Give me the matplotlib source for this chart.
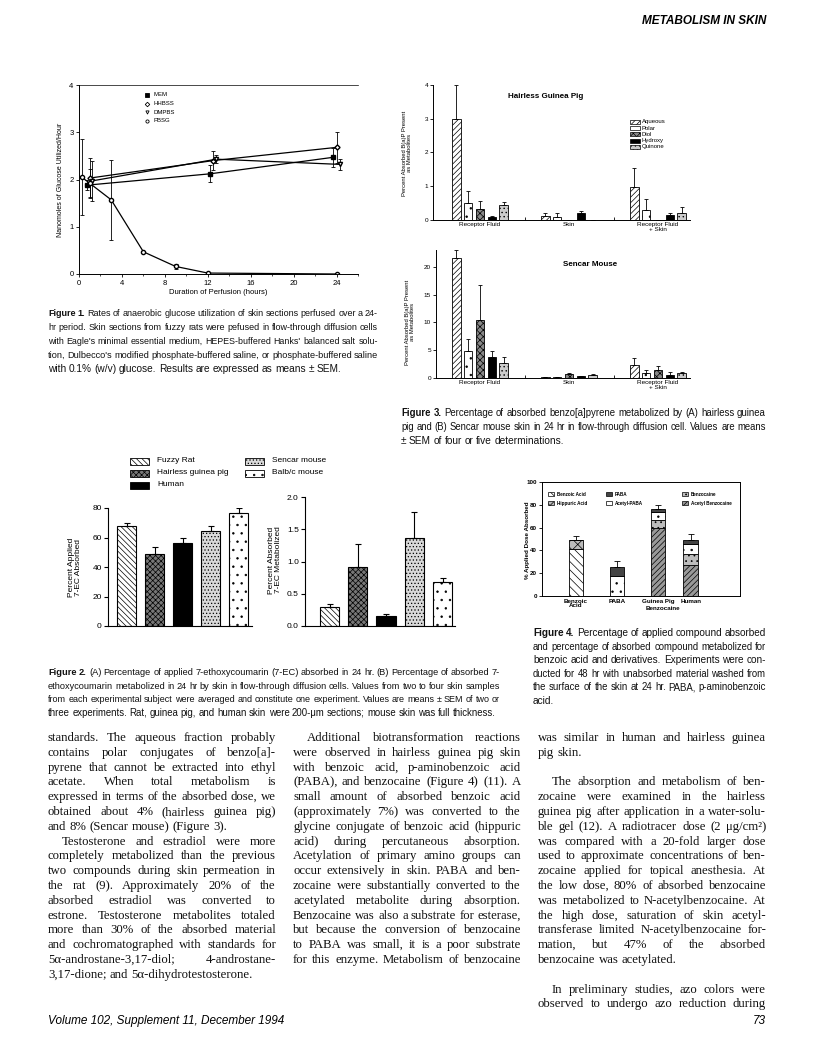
import matplotlib
matplotlib.use('Agg')
import matplotlib.pyplot as plt
from matplotlib.patches import Rectangle
from matplotlib.ticker import MultipleLocator
import numpy as np

# ---------------- data ----------------
# Figure 1
f1_mem_x = [0.75, 12.2, 23.7]
f1_mem_y = [1.88, 2.12, 2.47]
f1_mem_e = [0.10, 0.18, 0.20]
f1_hhbss_x = [1.0, 12.5, 24.0]
f1_hhbss_y = [2.03, 2.40, 2.68]
f1_hhbss_e = [0.42, 0.20, 0.33]
f1_dmpbs_x = [1.2, 12.8, 24.3]
f1_dmpbs_y = [1.97, 2.43, 2.32]
f1_dmpbs_e = [0.42, 0.08, 0.12]
f1_pbsg_x = [0.25, 1.0, 3.0, 6.0, 9.0, 12.0, 24.0]
f1_pbsg_y = [2.05, 1.92, 1.57, 0.47, 0.16, 0.02, 0.0]
f1_pbsg_e = [0.80, 0.30, 0.85, 0.0, 0.05, 0.0, 0.0]

# Figure 3
f3_groups = ["Receptor Fluid", "Skin", "Receptor Fluid\n+ Skin"]
f3_metabolites = ["Aqueous", "Polar", "Diol", "Hydroxy", "Quinone"]
gp_aqueous = [3.0, 0.13, 0.98]
gp_aqueous_err = [1.0, 0.07, 0.55]
gp_polar = [0.5, 0.10, 0.30]
gp_polar_err = [0.35, 0.10, 0.33]
gp_diol = [0.32, 0.0, 0.0]
gp_diol_err = [0.25, 0.0, 0.0]
gp_hydroxy = [0.08, 0.20, 0.15]
gp_hydroxy_err = [0.04, 0.07, 0.07]
gp_quinone = [0.43, 0.0, 0.20]
gp_quinone_err = [0.10, 0.0, 0.20]
sm_aqueous = [21.5, 0.1, 2.3]
sm_aqueous_err = [1.5, 0.0, 1.3]
sm_polar = [4.8, 0.1, 0.9]
sm_polar_err = [2.2, 0.0, 0.5]
sm_diol = [10.5, 0.7, 1.5]
sm_diol_err = [6.2, 0.15, 0.6]
sm_hydroxy = [3.8, 0.3, 0.6]
sm_hydroxy_err = [1.1, 0.05, 0.4]
sm_quinone = [2.7, 0.6, 0.85]
sm_quinone_err = [1.1, 0.1, 0.2]

# Figure 2
f2_species = ["Fuzzy Rat", "Hairless guinea pig", "Human", "Sencar mouse", "Balb/c mouse"]
f2_absorbed = [68.0, 48.8, 56.5, 64.4, 76.5]
f2_absorbed_err = [2.0, 5.0, 3.5, 3.6, 3.5]
f2_metabolized = [0.29, 0.91, 0.155, 1.37, 0.68]
f2_metabolized_err = [0.05, 0.36, 0.035, 0.39, 0.06]

# Figure 4
f4_compounds = ["Benzoic\nAcid", "PABA", "Guinea Pig", "Human"]
f4_benzoic_acid = [41.5, 0, 0, 0]
f4_hippuric_acid = [8.0, 0, 0, 0]
f4_paba = [0, 8.0, 2.3, 3.0]
f4_acetyl_paba = [0, 17.5, 7.3, 9.5]
f4_benzocaine = [0, 0, 6.4, 9.5]
f4_acetyl_benzocaine = [0, 0, 60.0, 27.0]
f4_err = [3.3, 5.6, 3.5, 5.0]

# ---------------- setup ----------------
W, H = 816, 1060
fig = plt.figure(figsize=(W / 100, H / 100), dpi=100)
plt.rcParams['hatch.linewidth'] = 0.5
SANS = ['Liberation Sans', 'DejaVu Sans']
NARROW = ['Liberation Sans Narrow', 'Liberation Sans', 'DejaVu Sans']
SERIF = ['Liberation Serif', 'DejaVu Serif']
plt.rcParams['font.family'] = SANS
plt.rcParams['axes.linewidth'] = 0.7


def add_ax(l, t, r, b):
    return fig.add_axes([l / W, 1 - b / H, (r - l) / W, (b - t) / H])


ov = fig.add_axes([0, 0, 1, 1])
ov.set_xlim(0, W)
ov.set_ylim(H, 0)
ov.axis('off')
ov.set_zorder(10)
renderer = fig.canvas.get_renderer()


def draw_line(text, x0, x1, y, size, family, justify=True, nbold=0, style='normal'):
    words = text.split()
    for attempt in range(2):
        objs, ws = [], []
        for j, w in enumerate(words):
            t = ov.text(0, y, w, fontsize=size, family=family,
                        weight='bold' if j < nbold else 'normal', style=style,
                        va='baseline', ha='left', color='#111111')
            objs.append(t)
            ws.append(t.get_window_extent(renderer).width)
        sp = 0.25 * size * 100 / 72
        nat = sum(ws) + sp * (len(ws) - 1)
        if nat > (x1 - x0) and attempt == 0:
            for t in objs:
                t.remove()
            size = size * (x1 - x0) / nat * 0.995
            continue
        break
    if justify and len(ws) > 1:
        gap = (x1 - x0 - sum(ws)) / (len(ws) - 1)
    else:
        gap = sp
    x = x0
    for t, w in zip(objs, ws):
        t.set_x(x)
        x += w + gap


def draw_block(lines, x0, x1, y0, dy, size, family, nbold=0, indent=14):
    y = y0
    for i, item in enumerate(lines):
        if item is None:
            y += dy
            continue
        txt, mode = item
        xs = x0 + (indent if 'i' in mode else 0)
        draw_line(txt, xs, x1, y, size, family, justify=('j' in mode),
                  nbold=nbold if i == 0 else 0)
        y += dy


# ---------------- header / footer ----------------
ov.text(766, 24, "METABOLISM IN SKIN", fontsize=8.5, weight='bold', style='italic',
        ha='right', va='baseline', family=SANS)
ov.text(48, 1024, "Volume 102, Supplement 11, December 1994", fontsize=8.5, style='italic',
        ha='left', va='baseline', family=SANS)
ov.text(766, 1024, "73", fontsize=8.5, style='italic', ha='right', va='baseline', family=SANS)

# ---------------- Figure 1 ----------------
ax1 = add_ax(79, 85, 358, 274)
ax1.set_xlim(0, 26)
ax1.set_ylim(0, 4)
ekw = dict(elinewidth=0.6, capsize=1.5, capthick=0.6, color='black', lw=0.9, ms=3)
ax1.errorbar(f1_mem_x, f1_mem_y, yerr=f1_mem_e, marker='s', mfc='black', mec='black', **ekw)
ax1.errorbar(f1_hhbss_x, f1_hhbss_y, yerr=f1_hhbss_e, marker='D', mfc='white', mec='black', **dict(ekw, ms=2.6))
ax1.errorbar(f1_dmpbs_x, f1_dmpbs_y, yerr=f1_dmpbs_e, marker='v', mfc='white', mec='black', **ekw)
ax1.errorbar(f1_pbsg_x, f1_pbsg_y, yerr=f1_pbsg_e, marker='o', mfc='white', mec='black', **ekw)
ax1.xaxis.set_major_locator(MultipleLocator(4))
ax1.xaxis.set_minor_locator(MultipleLocator(2))
ax1.yaxis.set_major_locator(MultipleLocator(1))
ax1.tick_params(labelsize=5.5, length=2.5, width=0.6, pad=1.5)
ax1.tick_params(which='minor', length=1.5, width=0.5)
ax1.spines['right'].set_visible(False)
ax1.spines['top'].set_linewidth(0.5)
ov.text(218, 293, "Duration of Perfusion (hours)", fontsize=5.5, ha='center', va='center')
ov.text(61, 180, "Nanomoles of Glucose Utilized/Hour", fontsize=5, ha='center', va='center', rotation=90)
leg1 = [("MEM", 's', 'black'), ("HHBSS", 'D', 'white'), ("DMPBS", 'v', 'white'), ("PBSG", 'o', 'white')]
for k, (lab, mk, fc) in enumerate(leg1):
    yy = 95 + 8.6 * k
    ov.plot([147], [yy], marker=mk, mfc=fc, mec='black', ms=2.3, mew=0.6, ls='none')
    ov.text(153, yy, lab, fontsize=4.3, va='center', ha='left')

draw_block([
    ("Figure 1. Rates of anaerobic glucose utilization of skin sections perfused over a 24-", 'j'),
    ("hr period. Skin sections from fuzzy rats were pefused in flow-through diffusion cells", 'j'),
    ("with Eagle's minimal essential medium, HEPES-buffered Hanks' balanced salt solu-", 'j'),
    ("tion, Dulbecco's modified phosphate-buffered saline, or phosphate-buffered saline", 'j'),
    ("with 0.1% (w/v) glucose. Results are expressed as means ± SEM.", 'l'),
], 48, 378, 316, 14, 7.3, NARROW, nbold=2)

# ---------------- Figure 3 ----------------
GX0, GDX = 480.0, 89.0
offs = [-2, -1, 0, 1, 2]
bstep = 11.8 / GDX
bw = 8.5 / GDX
styles3 = [dict(color='white', hatch='//////'),
           dict(color='white', hatch='..'),
           dict(color='#888888', hatch='xxxxx'),
           dict(color='black', hatch=None),
           dict(color='#cccccc', hatch='....')]


def fig3_panel(ax, series, errs, ymax, yticks):
    xg = np.arange(len(f3_groups))
    for k, (vals, er) in enumerate(zip(series, errs)):
        st = styles3[k]
        ax.bar(xg + offs[k] * bstep, vals, bw, color=st['color'], hatch=st['hatch'],
               edgecolor='black', linewidth=0.6,
               yerr=[np.zeros(len(er)), er],
               error_kw=dict(elinewidth=0.6, capsize=1.5, capthick=0.6, ecolor='black'))
    ax.set_ylim(0, ymax)
    ax.set_yticks(yticks)
    ax.set_xticks(xg)
    ax.set_xticklabels(f3_groups, fontsize=4.6, linespacing=0.9)
    ax.set_xticks([0.5, 1.5], minor=True)
    ax.tick_params(axis='x', which='major', length=0, pad=1.5)
    ax.tick_params(axis='x', which='minor', length=2, direction='in', width=0.6)
    ax.tick_params(axis='y', labelsize=4.6, length=2, width=0.6, pad=1.5)
    for s in ['top', 'right']:
        ax.spines[s].set_visible(False)


axA = add_ax(433, 85, 690, 220)
axA.set_xlim((433 - GX0) / GDX, (690 - GX0) / GDX)
fig3_panel(axA, [gp_aqueous, gp_polar, gp_diol, gp_hydroxy, gp_quinone],
           [gp_aqueous_err, gp_polar_err, gp_diol_err, gp_hydroxy_err, gp_quinone_err],
           4, [0, 1, 2, 3, 4])
axB = add_ax(436, 250, 690, 378)
axB.set_xlim((436 - GX0) / GDX, (690 - GX0) / GDX)
fig3_panel(axB, [sm_aqueous, sm_polar, sm_diol, sm_hydroxy, sm_quinone],
           [sm_aqueous_err, sm_polar_err, sm_diol_err, sm_hydroxy_err, sm_quinone_err],
           23, [0, 5, 10, 15, 20])
ov.text(546, 97, "Hairless Guinea Pig", fontsize=5.8, weight='bold', ha='center', va='center')
ov.text(590, 265, "Sencar Mouse", fontsize=5.8, weight='bold', ha='center', va='center')
ov.text(407, 153, "Percent Absorbed B(a)P Present\nas Metabolites", fontsize=4.2,
        ha='center', va='center', rotation=90, linespacing=1.1)
ov.text(410, 322, "Percent Absorbed B(a)P Present\nas Metabolites", fontsize=4.2,
        ha='center', va='center', rotation=90, linespacing=1.1)
for k, lab in enumerate(f3_metabolites):
    yy = 122 + 6.2 * k
    st = styles3[k]
    ov.add_patch(Rectangle((630, yy - 2), 10, 4, facecolor=st['color'], hatch=st['hatch'],
                           edgecolor='black', linewidth=0.5))
    ov.text(642, yy, lab, fontsize=4.3, va='center', ha='left')

draw_block([
    ("Figure 3. Percentage of absorbed benzo[a]pyrene metabolized by (A) hairless guinea", 'j'),
    ("pig and (B) Sencar mouse skin in 24 hr in flow-through diffusion cell. Values are means", 'j'),
    ("± SEM of four or five determinations.", 'l'),
], 401, 766, 416, 14, 7.3, NARROW, nbold=2)

# ---------------- Figure 2 ----------------
styles2 = [dict(color='white', hatch='\\\\\\\\\\\\'),
           dict(color='#777777', hatch='xxxxxx'),
           dict(color='black', hatch=None),
           dict(color='#d9d9d9', hatch='.....'),
           dict(color='white', hatch='..')]
axA2 = add_ax(108, 508, 252, 626)
x2 = np.arange(len(f2_species))
axA2.set_xlim((108 - 126.5) / 28.0, (252 - 126.5) / 28.0)
for k in range(len(f2_species)):
    st = styles2[k]
    axA2.bar(x2[k], f2_absorbed[k], 0.68, color=st['color'], hatch=st['hatch'],
             edgecolor='black', linewidth=0.8,
             yerr=[[0], [f2_absorbed_err[k]]],
             error_kw=dict(elinewidth=0.8, capsize=2, capthick=0.8, ecolor='black'))
axA2.set_ylim(0, 80)
axA2.set_yticks([0, 20, 40, 60, 80])
axB2 = add_ax(305, 497, 455, 626)
axB2.set_xlim((305 - 329.5) / 28.3, (455 - 329.5) / 28.3)
for k in range(len(f2_species)):
    st = styles2[k]
    axB2.bar(x2[k], f2_metabolized[k], 0.68, color=st['color'], hatch=st['hatch'],
             edgecolor='black', linewidth=0.8,
             yerr=[[0], [f2_metabolized_err[k]]],
             error_kw=dict(elinewidth=0.8, capsize=2, capthick=0.8, ecolor='black'))
axB2.set_ylim(0, 2.0)
axB2.set_yticks([0.0, 0.5, 1.0, 1.5, 2.0])
axB2.set_yticklabels(["0.0", "0.5", "1.0", "1.5", "2.0"])
for ax in (axA2, axB2):
    ax.set_xticks([])
    ax.tick_params(axis='y', labelsize=6, length=3, width=0.8, pad=1.5)
    for s in ['top', 'right']:
        ax.spines[s].set_visible(False)
    ax.spines['left'].set_linewidth(0.8)
    ax.spines['bottom'].set_linewidth(0.8)
ov.text(75, 567, "Percent Applied\n7-EC Absorbed", fontsize=6, ha='center', va='center',
        rotation=90, linespacing=1.1)
ov.text(275, 560, "Percent Absorbed\n7-EC Metabolized", fontsize=6, ha='center', va='center',
        rotation=90, linespacing=1.1)
leg2_pos = [(130, 461), (130, 473), (130, 485), (245, 461), (245, 473)]
for k, lab in enumerate(f2_species):
    lx, ly = leg2_pos[k]
    st = styles2[k]
    ov.add_patch(Rectangle((lx, ly - 3.5), 19, 7, facecolor=st['color'], hatch=st['hatch'],
                           edgecolor='black', linewidth=0.6))
    ov.text(lx + 27, ly, lab, fontsize=6, va='center', ha='left')

draw_block([
    ("Figure 2. (A) Percentage of applied 7-ethoxycoumarin (7-EC) absorbed in 24 hr. (B) Percentage of absorbed 7-", 'j'),
    ("ethoxycoumarin metabolized in 24 hr by skin in flow-through diffusion cells. Values from two to four skin samples", 'j'),
    ("from each experimental subject were averaged and constitute one experiment. Values are means ± SEM of two or", 'j'),
    ("three experiments. Rat, guinea pig, and human skin were 200-μm sections; mouse skin was full thickness.", 'l'),
], 48, 500, 675, 13.6, 7.3, NARROW, nbold=2)

# ---------------- Figure 4 ----------------
ax4 = add_ax(542, 482, 740, 596)
x4 = [0.0, 1.0, 2.0, 2.8]
ax4.set_xlim((542 - 576) / 41.0, (740 - 576) / 41.0)
ax4.set_ylim(0, 100)
styles4 = {
    'benzoic': dict(color='white', hatch='\\\\\\\\'),
    'hippuric': dict(color='#bbbbbb', hatch='xxx'),
    'paba': dict(color='#444444', hatch=None),
    'acetyl_paba': dict(color='white', hatch='..'),
    'benzocaine': dict(color='#bdbdbd', hatch='...'),
    'acetyl_benzocaine': dict(color='#999999', hatch='//////'),
}
stack = [('benzoic', f4_benzoic_acid), ('acetyl_benzocaine', f4_acetyl_benzocaine),
         ('benzocaine', f4_benzocaine), ('acetyl_paba', f4_acetyl_paba),
         ('hippuric', f4_hippuric_acid), ('paba', f4_paba)]
bottom = np.zeros(4)
for key, vals in stack:
    st = styles4[key]
    ax4.bar(x4, vals, 0.36, bottom=bottom, color=st['color'], hatch=st['hatch'],
            edgecolor='black', linewidth=0.6)
    bottom = bottom + np.array(vals)
ax4.errorbar(x4, bottom, yerr=[np.zeros(4), f4_err], fmt='none', ecolor='black',
             elinewidth=0.6, capsize=2, capthick=0.6)
ax4.set_yticks([0, 20, 40, 60, 80, 100])
ax4.set_xticks(x4)
ax4.set_xticklabels(f4_compounds, fontsize=4.5, weight='bold', linespacing=0.9)
ax4.tick_params(axis='x', length=0, pad=2)
ax4.tick_params(axis='y', labelsize=4.5, length=2, width=0.6, pad=1.5)
for lab in ax4.get_yticklabels():
    lab.set_weight('bold')
ov.text(663, 609, "Benzocaine", fontsize=4.5, weight='bold', ha='center', va='center')
ov.text(527, 540, "% Applied Dose Absorbed", fontsize=4.5, weight='bold', ha='center',
        va='center', rotation=90)
leg4 = [("Benzoic Acid", 'benzoic', 548, 494), ("Hippuric Acid", 'hippuric', 548, 503),
        ("PABA", 'paba', 606, 494), ("Acetyl-PABA", 'acetyl_paba', 606, 503),
        ("Benzocaine", 'benzocaine', 682, 494), ("Acetyl Benzocaine", 'acetyl_benzocaine', 682, 503)]
for lab, key, lx, ly in leg4:
    st = styles4[key]
    ov.add_patch(Rectangle((lx, ly - 2.2), 6, 4.4, facecolor=st['color'], hatch=st['hatch'],
                           edgecolor='black', linewidth=0.5))
    ov.text(lx + 9, ly, lab, fontsize=3.3, weight='bold', va='center', ha='left')

draw_block([
    ("Figure 4. Percentage of applied compound absorbed", 'j'),
    ("and percentage of absorbed compound metabolized for", 'j'),
    ("benzoic acid and derivatives. Experiments were con-", 'j'),
    ("ducted for 48 hr with unabsorbed material washed from", 'j'),
    ("the surface of the skin at 24 hr. PABA, p-aminobenzoic", 'j'),
    ("acid.", 'l'),
], 533, 766, 636, 13.6, 7.3, NARROW, nbold=2)

# ---------------- body text ----------------
col1 = [
    ("standards. The aqueous fraction probably", 'j'),
    ("contains polar conjugates of benzo[a]-", 'j'),
    ("pyrene that cannot be extracted into ethyl", 'j'),
    ("acetate. When total metabolism is", 'j'),
    ("expressed in terms of the absorbed dose, we", 'j'),
    ("obtained about 4% (hairless guinea pig)", 'j'),
    ("and 8% (Sencar mouse) (Figure 3).", 'l'),
    ("Testosterone and estradiol were more", 'ji'),
    ("completely metabolized than the previous", 'j'),
    ("two compounds during skin permeation in", 'j'),
    ("the rat (9). Approximately 20% of the", 'j'),
    ("absorbed estradiol was converted to", 'j'),
    ("estrone. Testosterone metabolites totaled", 'j'),
    ("more than 30% of the absorbed material", 'j'),
    ("and cochromatographed with standards for", 'j'),
    ("5α-androstane-3,17-diol; 4-androstane-", 'j'),
    ("3,17-dione; and 5α-dihydrotestosterone.", 'l'),
]
col2 = [
    ("Additional biotransformation reactions", 'ji'),
    ("were observed in hairless guinea pig skin", 'j'),
    ("with benzoic acid, p-aminobenzoic acid", 'j'),
    ("(PABA), and benzocaine (Figure 4) (11). A", 'j'),
    ("small amount of absorbed benzoic acid", 'j'),
    ("(approximately 7%) was converted to the", 'j'),
    ("glycine conjugate of benzoic acid (hippuric", 'j'),
    ("acid) during percutaneous absorption.", 'j'),
    ("Acetylation of primary amino groups can", 'j'),
    ("occur extensively in skin. PABA and ben-", 'j'),
    ("zocaine were substantially converted to the", 'j'),
    ("acetylated metabolite during absorption.", 'j'),
    ("Benzocaine was also a substrate for esterase,", 'j'),
    ("but because the conversion of benzocaine", 'j'),
    ("to PABA was small, it is a poor substrate", 'j'),
    ("for this enzyme. Metabolism of benzocaine", 'j'),
]
col3 = [
    ("was similar in human and hairless guinea", 'j'),
    ("pig skin.", 'l'),
    None,
    ("The absorption and metabolism of ben-", 'ji'),
    ("zocaine were examined in the hairless", 'j'),
    ("guinea pig after application in a water-solu-", 'j'),
    ("ble gel (12). A radiotracer dose (2 μg/cm²)", 'j'),
    ("was compared with a 20-fold larger dose", 'j'),
    ("used to approximate concentrations of ben-", 'j'),
    ("zocaine applied for topical anesthesia. At", 'j'),
    ("the low dose, 80% of absorbed benzocaine", 'j'),
    ("was metabolized to N-acetylbenzocaine. At", 'j'),
    ("the high dose, saturation of skin acetyl-", 'j'),
    ("transferase limited N-acetylbenzocaine for-", 'j'),
    ("mation, but 47% of the absorbed", 'j'),
    ("benzocaine was acetylated.", 'l'),
    None,
    ("In preliminary studies, azo colors were", 'ji'),
    ("observed to undergo azo reduction during", 'j'),
]
BODY_Y0, BODY_DY, BODY_FS = 741, 14.8, 9.2
draw_block(col1, 48, 276, BODY_Y0, BODY_DY, BODY_FS, SERIF)
draw_block(col2, 293, 521, BODY_Y0, BODY_DY, BODY_FS, SERIF)
draw_block(col3, 538, 766, BODY_Y0, BODY_DY, BODY_FS, SERIF)

fig.savefig('out.png', dpi=100)
